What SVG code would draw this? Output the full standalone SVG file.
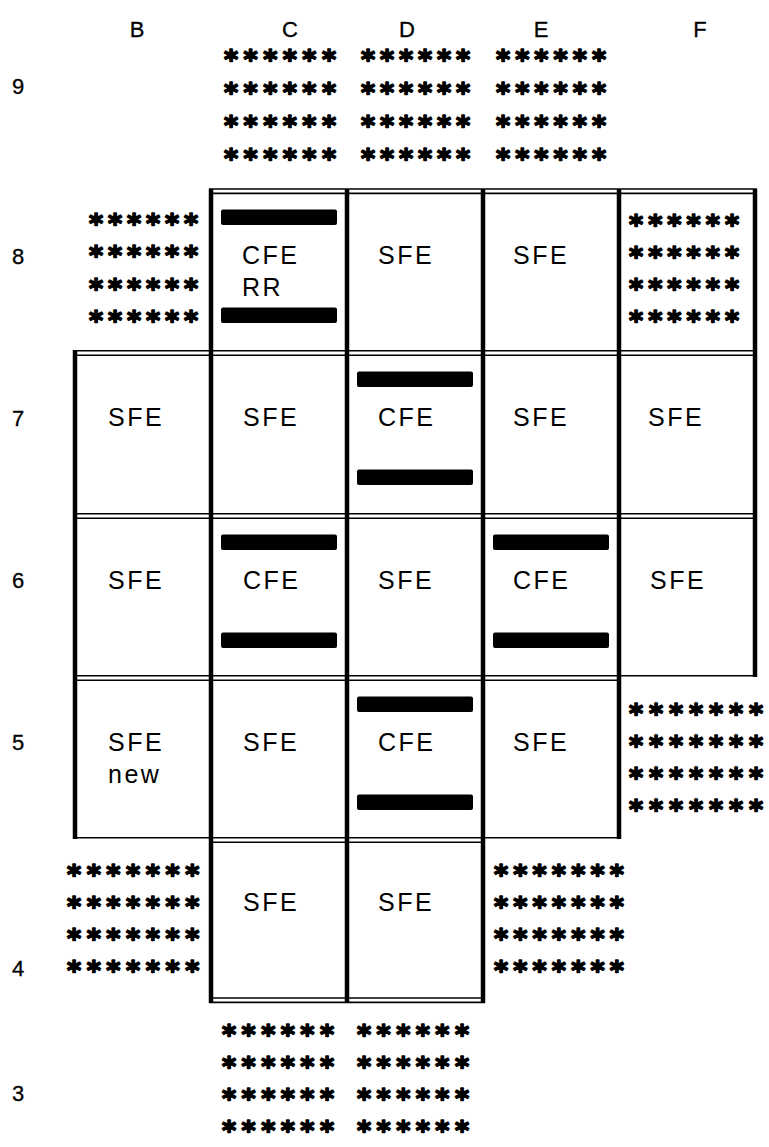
<svg xmlns="http://www.w3.org/2000/svg" width="769" height="1147" viewBox="0 0 769 1147">
<style>
.lbl{font-family:"Liberation Sans",Arial,sans-serif;font-size:25px;letter-spacing:2.5px;fill:#000}
.hdr{font-family:"Liberation Sans",Arial,sans-serif;font-size:22px;fill:#000;stroke:#000;stroke-width:0.3;text-anchor:middle}
.ast{font-family:"DejaVu Sans",sans-serif;font-size:27px;font-weight:bold;text-anchor:middle;fill:#000;stroke:#000;stroke-width:1.6;stroke-linejoin:round}
.bar{fill:#000}
.h{stroke:#000;stroke-width:1.6;fill:none}
.v{stroke:#000;stroke-width:4.5;fill:none}
</style>
<rect width="769" height="1147" fill="#fff"/>
<g id="headers">
<text class="hdr" x="137" y="37">B</text>
<text class="hdr" x="290" y="37">C</text>
<text class="hdr" x="407" y="37">D</text>
<text class="hdr" x="541" y="37">E</text>
<text class="hdr" x="700" y="37">F</text>
<text class="hdr" x="18" y="94">9</text>
<text class="hdr" x="18" y="264">8</text>
<text class="hdr" x="18" y="426">7</text>
<text class="hdr" x="18" y="588">6</text>
<text class="hdr" x="18" y="750">5</text>
<text class="hdr" x="18" y="976">4</text>
<text class="hdr" x="18" y="1101">3</text>
</g>
<g id="grid">
<line class="h" x1="209" y1="189" x2="757" y2="189"/>
<line class="h" x1="209" y1="193.4" x2="757" y2="193.4"/>
<line class="h" x1="73" y1="350.8" x2="757" y2="350.8"/>
<line class="h" x1="73" y1="355.2" x2="757" y2="355.2"/>
<line class="h" x1="73" y1="513.8" x2="757" y2="513.8"/>
<line class="h" x1="73" y1="518.2" x2="757" y2="518.2"/>
<line class="h" x1="73" y1="675.8" x2="757" y2="675.8"/>
<line class="h" x1="73" y1="680.2" x2="621" y2="680.2"/>
<line class="h" x1="73" y1="837.8" x2="621" y2="837.8"/>
<line class="h" x1="209" y1="842.2" x2="485" y2="842.2"/>
<line class="h" x1="209" y1="998" x2="485" y2="998"/>
<line class="h" x1="209" y1="1002.4" x2="485" y2="1002.4"/>
<line class="v" x1="75" y1="350" x2="75" y2="839"/>
<line class="v" x1="211" y1="189" x2="211" y2="1003"/>
<line class="v" x1="347" y1="189" x2="347" y2="1003"/>
<line class="v" x1="483" y1="189" x2="483" y2="1003"/>
<line class="v" x1="619" y1="189" x2="619" y2="839"/>
<line class="v" x1="755" y1="189" x2="755" y2="677"/>
</g>
<g id="C9"><text class="ast"><tspan x="231 250.6 270.2 289.8 309.4 329" y="68.5">******</tspan><tspan x="231 250.6 270.2 289.8 309.4 329" y="101.5">******</tspan><tspan x="231 250.6 270.2 289.8 309.4 329" y="134.5">******</tspan><tspan x="231 250.6 270.2 289.8 309.4 329" y="167.5">******</tspan></text></g>
<g id="D9"><text class="ast"><tspan x="368 387 406 425 444 463" y="68.5">******</tspan><tspan x="368 387 406 425 444 463" y="101.5">******</tspan><tspan x="368 387 406 425 444 463" y="134.5">******</tspan><tspan x="368 387 406 425 444 463" y="167.5">******</tspan></text></g>
<g id="E9"><text class="ast"><tspan x="503 522.2 541.4 560.6 579.8 599" y="68.5">******</tspan><tspan x="503 522.2 541.4 560.6 579.8 599" y="101.5">******</tspan><tspan x="503 522.2 541.4 560.6 579.8 599" y="134.5">******</tspan><tspan x="503 522.2 541.4 560.6 579.8 599" y="167.5">******</tspan></text></g>
<g id="B8"><text class="ast"><tspan x="96 115 134 153 172 191" y="232.5">******</tspan><tspan x="96 115 134 153 172 191" y="264.5">******</tspan><tspan x="96 115 134 153 172 191" y="297.5">******</tspan><tspan x="96 115 134 153 172 191" y="329.5">******</tspan></text></g>
<g id="C8">
<rect class="bar" x="221" y="209.5" width="116" height="15.5" rx="2"/>
<rect class="bar" x="221" y="307.5" width="116" height="15.5" rx="2"/>
<text class="lbl" x="242" y="264">CFE</text>
<text class="lbl" x="242" y="296">RR</text>
</g>
<g id="D8"><text class="lbl" x="378" y="264">SFE</text></g>
<g id="E8"><text class="lbl" x="513" y="264">SFE</text></g>
<g id="F8"><text class="ast"><tspan x="636 655.2 674.4 693.6 712.8 732" y="233.5">******</tspan><tspan x="636 655.2 674.4 693.6 712.8 732" y="265.5">******</tspan><tspan x="636 655.2 674.4 693.6 712.8 732" y="297.5">******</tspan><tspan x="636 655.2 674.4 693.6 712.8 732" y="329.5">******</tspan></text></g>
<g id="B7"><text class="lbl" x="108" y="426">SFE</text></g>
<g id="C7"><text class="lbl" x="243" y="426">SFE</text></g>
<g id="D7">
<rect class="bar" x="357" y="371.5" width="116" height="15.5" rx="2"/>
<rect class="bar" x="357" y="469.5" width="116" height="15.5" rx="2"/>
<text class="lbl" x="378" y="426">CFE</text>
</g>
<g id="E7"><text class="lbl" x="513" y="426">SFE</text></g>
<g id="F7"><text class="lbl" x="648" y="426">SFE</text></g>
<g id="B6"><text class="lbl" x="108" y="589">SFE</text></g>
<g id="C6">
<rect class="bar" x="221" y="534.5" width="116" height="15.5" rx="2"/>
<rect class="bar" x="221" y="632.5" width="116" height="15.5" rx="2"/>
<text class="lbl" x="243" y="589">CFE</text>
</g>
<g id="D6"><text class="lbl" x="378" y="589">SFE</text></g>
<g id="E6">
<rect class="bar" x="493" y="534.5" width="116" height="15.5" rx="2"/>
<rect class="bar" x="493" y="632.5" width="116" height="15.5" rx="2"/>
<text class="lbl" x="513" y="589">CFE</text>
</g>
<g id="F6"><text class="lbl" x="650" y="589">SFE</text></g>
<g id="B5">
<text class="lbl" x="108" y="751">SFE</text>
<text class="lbl" x="108" y="783">new</text>
</g>
<g id="C5"><text class="lbl" x="243" y="751">SFE</text></g>
<g id="D5">
<rect class="bar" x="357" y="696.5" width="116" height="15.5" rx="2"/>
<rect class="bar" x="357" y="794.5" width="116" height="15.5" rx="2"/>
<text class="lbl" x="378" y="751">CFE</text>
</g>
<g id="E5"><text class="lbl" x="513" y="751">SFE</text></g>
<g id="F5"><text class="ast"><tspan x="636 656 676 696 716 736 756" y="722.5">*******</tspan><tspan x="636 656 676 696 716 736 756" y="754.5">*******</tspan><tspan x="636 656 676 696 716 736 756" y="786.5">*******</tspan><tspan x="636 656 676 696 716 736 756" y="818.5">*******</tspan></text></g>
<g id="B4"><text class="ast"><tspan x="74 93.7 113.4 133.1 152.8 172.5 192.2" y="883.5">*******</tspan><tspan x="74 93.7 113.4 133.1 152.8 172.5 192.2" y="915.5">*******</tspan><tspan x="74 93.7 113.4 133.1 152.8 172.5 192.2" y="947.5">*******</tspan><tspan x="74 93.7 113.4 133.1 152.8 172.5 192.2" y="979.5">*******</tspan></text></g>
<g id="C4"><text class="lbl" x="243" y="911">SFE</text></g>
<g id="D4"><text class="lbl" x="378" y="911">SFE</text></g>
<g id="E4"><text class="ast"><tspan x="501 520.3 539.6 558.9 578.2 597.5 616.8" y="883.5">*******</tspan><tspan x="501 520.3 539.6 558.9 578.2 597.5 616.8" y="915.5">*******</tspan><tspan x="501 520.3 539.6 558.9 578.2 597.5 616.8" y="947.5">*******</tspan><tspan x="501 520.3 539.6 558.9 578.2 597.5 616.8" y="979.5">*******</tspan></text></g>
<g id="C3"><text class="ast"><tspan x="229 248.6 268.2 287.8 307.4 327" y="1043.5">******</tspan><tspan x="229 248.6 268.2 287.8 307.4 327" y="1075.5">******</tspan><tspan x="229 248.6 268.2 287.8 307.4 327" y="1107.5">******</tspan><tspan x="229 248.6 268.2 287.8 307.4 327" y="1139.5">******</tspan></text></g>
<g id="D3"><text class="ast"><tspan x="364 383.6 403.2 422.8 442.4 462" y="1043.5">******</tspan><tspan x="364 383.6 403.2 422.8 442.4 462" y="1075.5">******</tspan><tspan x="364 383.6 403.2 422.8 442.4 462" y="1107.5">******</tspan><tspan x="364 383.6 403.2 422.8 442.4 462" y="1139.5">******</tspan></text></g>
</svg>
